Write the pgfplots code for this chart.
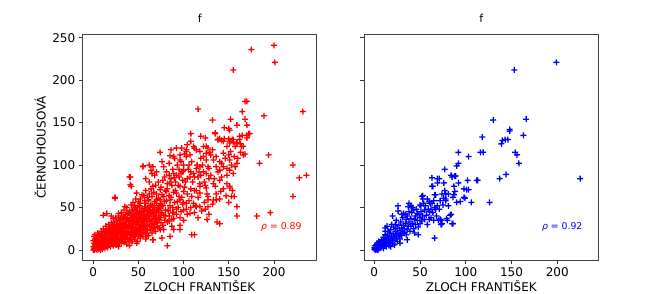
\documentclass[border=0pt]{standalone}
\usepackage{pgfplots}
\pgfplotsset{compat=1.18}
\usepackage{fontspec}
\setmainfont{DejaVu Sans}
\pgfdeclareplotmark{rplus}{%
  \pgfsetlinewidth{1.3pt}\pgfsetstrokecolor{red}%
  \pgfpathmoveto{\pgfqpoint{-\pgfplotmarksize}{-0.06pt}}\pgfpathlineto{\pgfqpoint{\pgfplotmarksize}{0.06pt}}%
  \pgfpathmoveto{\pgfqpoint{0.06pt}{-\pgfplotmarksize}}\pgfpathlineto{\pgfqpoint{-0.06pt}{\pgfplotmarksize}}%
  \pgfusepathqstroke}
\pgfdeclareplotmark{bplus}{%
  \pgfsetlinewidth{1.3pt}\pgfsetstrokecolor{blue}%
  \pgfpathmoveto{\pgfqpoint{-\pgfplotmarksize}{-0.06pt}}\pgfpathlineto{\pgfqpoint{\pgfplotmarksize}{0.06pt}}%
  \pgfpathmoveto{\pgfqpoint{0.06pt}{-\pgfplotmarksize}}\pgfpathlineto{\pgfqpoint{-0.06pt}{\pgfplotmarksize}}%
  \pgfusepathqstroke}
\pgfplotsset{
 myax/.style={
  scale only axis, width=234pt, height=225.7pt,
  xmin=-11.7, xmax=247.3, ymin=-11.8, ymax=254,
  xtick={0,50,100,150,200}, ytick={0,50,100,150,200,250},
  xtick pos=lower, ytick pos=left,
  tick align=outside, major tick length=4pt,
  tick style={black!80, line width=0.8pt},
  axis line style={black!75, line width=0.9pt},
  ticklabel style={font=\fontsize{12}{14}\selectfont},
  /pgf/number format/assume math mode=true,
  title style={font=\fontsize{11}{12}\selectfont, at={(axis description cs:0.5,1)}, anchor=base, yshift=5.6pt},
  title={f},
  xlabel={ZLOCH FRANTIŠEK},
  xlabel style={font=\fontsize{12}{14}\selectfont, at={(axis description cs:0.5,0)}, anchor=base, yshift=-31.4pt},
 },
 mk/.style={only marks, mark=#1, mark size=3pt, line width=1.3pt},
}
\begin{document}
\begin{tikzpicture}[x=1pt,y=1pt]
\useasboundingbox (0,0) rectangle (665,293);
\begin{axis}[myax, at={(82.7pt,33pt)}, anchor=south west,
  ylabel={ČERNOHOUSOVÁ},
  ylabel style={font=\fontsize{12}{14}\selectfont, at={(axis description cs:-0.158,0.5)}, anchor=base, rotate=0}]
\addplot[mk=rplus, red] coordinates {
(200,241) (175,236) (201,221) (155,212) (116,166) (232,163) (168,175) (170,175) (165,163) (189,158) (132,153) (152,154) (168,154) (159,147) (170,147) (145,144) (150,143) (151,141) (135,138) (172,137) (108,137) (119,134) (124,132) (165,135) (140,131) (145,131) (150,131) (154,130) (162,130) (170,132) (135,137) (194,112) (184,102) (221,100) (228,85) (236,88) (221,63) (196,44) (181,40) (159,51) (159,40) (156,63) (126,36) (137,33) (140,31) (109,18) (112,18) (82,5) (74,115)
(138,130) (142,129) (151,128) (155,127) (159,126) (163,125) (148,122) (157,122) (166,122) (152,116) (166,112) (168,113) (159,102) (151,94) (155,90) (140,94) (133,106) (122,110) (127,120) (125,122) (118,116) (111,122) (103,118) (107,112) (92,120) (101,113) (96,106) (85,111) (76,104) (66,98) (55,98) (65,90) (81,92) (89,90) (100,94) (111,90) (118,98) (125,90) (135,75) (141,69) (136,59) (148,78) (153,63) (151,73) (133,59) (127,63) (118,75) (109,63) (103,55) (100,47) (89,37) (87,28) (96,24) (78,24) (76,14) (66,12) (48,8) (41,77) (41,86) (24,61) (11,41) (15,43) (28,43) (35,51) (42,53) (48,67) (52,55) (61,59) (66,75) (65,63) (74,71) (70,59) (81,69) (85,59) (83,47) (92,67) (96,59) (111,55) (118,51) (127,51) (144,114) (151,106) (157,98) (55,99) (62,100) (40,86) (42,75) (24,62)
(138,130) (144,128) (151,126) (155,130) (159,126) (162,134) (164,122) (170,135) (173,137)
(89,110) (103,116) (112,120) (122,122) (130,112) (136,98) (142,102) (148,96) (151,75) (154,70) (140,82) (133,78) (125,73) (118,67) (127,59) (114,51) (107,43) (100,35) (96,29) (89,24) (85,16) (66,12) (74,24) (59,16)
(52,60) (56,64) (58,70) (62,66) (64,72) (67,68) (69,76) (72,80) (75,74) (77,82) (79,86) (82,78) (84,88) (86,84) (88,95) (91,80) (93,100) (95,86) (97,104) (99,92) (101,74) (104,84) (106,100) (108,92) (110,80) (112,70) (114,96) (116,86) (119,88) (121,100) (123,80) (125,114) (128,96) (130,88) (132,118) (134,84) (136,110) (138,92) (140,104) (142,86) (144,98) (146,108) (148,88) (150,112) (153,100) (156,110) (160,108) (163,115) (72,46) (76,52) (80,40) (84,34) (88,44) (92,48) (96,38) (100,56) (104,42) (108,50) (112,44) (116,38) (120,46) (124,48) (128,42) (132,54) (136,66) (140,60) (144,72) (147,64) (150,56) (60,62) (57,58) (54,65) (50,57) (47,60) (44,56) (62,80) (58,84) (68,88) (64,94) (78,98) (84,102) (90,108) (96,112) (104,124) (108,128) (98,120) (86,118) (70,92)
(0,0) (1,2) (0,4) (2,6) (1,8) (0,11) (2,13) (1,16) (3,1) (3,9) (2,18)
(4,0) (5,3) (4,6) (6,8) (5,11) (4,14) (6,17) (5,20) (6,1)
(7,2) (8,5) (7,9) (9,12) (8,15) (7,19) (9,22) (8,0) (9,7)
(10,1) (11,4) (10,8) (12,11) (11,14) (10,18) (12,21) (11,25) (12,6)
(13,2) (14,6) (13,10) (15,13) (14,17) (13,21) (15,24) (14,28) (15,4)
(16,3) (17,7) (16,11) (18,14) (17,18) (16,22) (18,26) (17,30) (18,9)
(19,4) (20,8) (19,12) (21,16) (20,20) (19,24) (21,28) (20,32) (21,11) (20,40)
(22,5) (23,9) (22,13) (24,17) (23,21) (22,25) (24,29) (23,33) (24,12) (22,37)
(25,6) (26,10) (25,14) (27,18) (26,22) (25,26) (27,30) (26,34) (27,15) (25,38)
(28,4) (29,11) (28,15) (30,19) (29,23) (28,27) (30,31) (29,35) (30,13) (28,40)
(31,8) (32,12) (31,16) (33,20) (32,24) (31,28) (33,32) (32,36) (33,40) (31,44)
(34,9) (35,13) (34,17) (36,21) (35,25) (34,29) (36,33) (35,37) (36,42) (34,47)
(37,7) (38,14) (37,18) (39,22) (38,26) (37,30) (39,34) (38,38) (39,43) (37,50)
(40,5) (41,12) (40,17) (42,21) (41,25) (40,29) (42,33) (41,37) (42,41) (40,45)
(43,10) (44,15) (43,19) (45,23) (44,27) (43,31) (45,35) (44,39) (45,43) (43,48)
(46,13) (47,18) (46,22) (48,26) (47,30) (46,34) (48,38) (47,42) (48,47) (46,52)
(49,10) (50,16) (49,21) (51,25) (50,29) (49,33) (51,37) (50,41) (51,45) (49,50)
(52,14) (53,19) (52,24) (54,28) (53,32) (52,36) (54,40) (53,44) (54,49) (52,55)
(55,16) (56,21) (55,26) (57,30) (56,34) (55,38) (57,42) (56,46) (57,51)
(58,13) (59,19) (58,24) (60,28) (59,33) (58,37) (60,41) (59,45) (60,50) (58,55)
(61,17) (63,23) (62,29) (64,34) (61,39) (63,44) (62,48) (64,53) (61,58)
(65,20) (67,26) (66,31) (68,37) (65,42) (67,47) (66,52) (68,57)
(69,22) (71,28) (70,34) (72,40) (69,45) (71,50) (70,55) (72,61) (70,66)
(73,26) (75,32) (74,38) (76,44) (73,49) (75,54) (74,59) (76,65)
(77,29) (79,35) (78,41) (80,47) (77,52) (79,57) (78,63) (80,70)
(82,33) (84,40) (83,46) (85,52) (81,58) (84,64) (82,72) (85,80)
(87,36) (89,44) (88,50) (90,56) (86,62) (89,68) (87,76) (90,85)
(92,42) (94,50) (93,57) (95,63) (91,70) (94,76) (92,88) (95,95)
(97,45) (99,54) (98,62) (100,69) (96,75) (99,82) (97,90) (100,100)
(103,48) (106,58) (104,66) (108,72) (102,80) (107,86) (105,95) (109,104) (103,110)
(113,52) (116,62) (114,70) (118,78) (112,86) (117,92) (115,100) (119,108) (114,118)
(123,56) (126,66) (124,76) (128,84) (122,92) (127,98) (125,106) (129,115)
(1,0) (2,3) (3,5) (4,10) (3,12) (5,15) (6,4) (7,6) (8,10) (9,17) (10,4) (11,9) (12,16) (13,7) (14,12) (14,22) (15,18) (16,7) (17,12) (17,24) (18,20) (19,9) (20,15) (20,26) (21,22) (22,9) (22,18) (23,28) (24,7) (24,22) (25,17) (26,28) (26,12) (27,24) (27,8) (28,20) (29,30) (29,8) (30,24) (30,36) (31,12) (31,20) (32,32) (33,16) (33,28) (34,22) (34,38) (35,10) (35,30) (36,18) (36,26) (37,36) (38,22) (38,44) (39,12) (39,28) (40,35) (41,18) (41,42) (42,27) (42,10) (43,37) (44,22) (44,46) (45,30) (45,16) (46,40) (47,26) (47,50) (48,20) (48,34) (49,44) (50,24) (50,36) (51,19) (51,52) (52,30) (52,44) (53,26) (53,38) (54,20) (54,34) (55,46) (55,30) (56,40) (56,25) (57,36) (58,48) (58,20) (59,30) (60,38) (60,24) (61,46) (62,34) (63,52) (64,28) (64,42) (65,36) (66,46) (66,24) (67,40) (68,30) (68,50) (69,38) (70,44) (71,32) (72,48) (73,36) (74,52) (75,42)
};
\node[font=\fontsize{9.3}{11}\selectfont, text=red, anchor=base] at (rel axis cs:0.849,0.136) {\itshape ρ\upshape{} = 0.89};
\end{axis}
\begin{axis}[myax, at={(364.3pt,33pt)}, anchor=south west, xmin=-10.9, xmax=244.8, yticklabels={}]
\addplot[mk=bplus, blue] coordinates {
(199,221) (153,212) (166,154) (130,153) (148,142) (148,140) (163,135) (118,133) (140,129) (143,130) (146,130) (139,125) (116,115) (119,115) (154,115) (156,112) (158,102) (144,89) (137,84) (225,84)
(92,115) (103,110) (92,102) (90,99) (77,95) (69,84) (71,84) (76,79) (84,88) (85,86) (88,87) (89,87) (92,79) (64,75) (87,75) (101,71) (103,71) (112,82) (77,70) (88,69) (66,65) (53,64) (53,60) (78,60) (87,65) (90,56) (99,61) (106,56) (126,56) (61,55) (69,52) (71,48) (59,48) (26,52) (26,46) (37,51) (41,50) (43,47) (47,43) (81,52) (83,41) (70,35) (74,31) (80,35) (86,31) (66,14) (36,12) (33,20) (63,85) (69,79) (102,82) (113,82) (98,72) (76,61) (86,62) (72,58) (78,58) (75,53) (94,57) (98,62) (52,63) (51,52) (54,55) (60,57) (62,48) (66,50) (73,35) (79,37) (84,42) (73,30) (85,31) (38,55) (40,52) (32,43) (34,42) (12,26) (12,22) (63,75) (67,65) (74,66) (78,66) (81,66) (50,53) (65,35) (72,36)
(0,1) (1,0) (1,2) (2,1) (2,3) (3,0) (3,2) (4,4) (4,1) (5,3) (5,6) (6,2) (6,5) (7,4) (7,8) (8,3) (8,6) (9,9) (9,5) (10,2) (10,7) (11,11) (11,5) (12,8) (12,14) (13,4) (13,10) (14,7) (14,17) (15,12) (15,9) (16,5) (2,6) (3,8) (5,10) (0,3) (1,5) (4,0) (6,9) (8,12) (10,15) (12,18)
(16,14) (17,20) (17,9) (18,11) (18,24) (19,16) (20,8) (20,13) (21,19) (21,27) (22,11) (22,16) (23,22) (23,30) (24,14) (24,18) (25,25) (25,10) (26,20) (27,16) (27,29) (28,23) (28,13) (29,19) (29,33) (30,26) (30,17) (31,22) (31,38) (32,29) (33,20) (33,25) (34,31) (35,18) (35,36) (19,30) (15,22) (24,35) (30,42) (28,8) (18,4) (22,6)
(36,24) (36,40) (37,28) (38,33) (39,22) (40,37) (40,28) (41,44) (42,31) (43,25) (44,36) (45,40) (45,30) (46,48) (47,35) (48,27) (49,42) (50,38) (50,31) (51,45) (52,34) (53,40) (55,47) (55,36) (44,20) (48,18) (38,45) (42,50) (20,40) (14,28)
(56,52) (57,41) (58,60) (60,45) (62,38) (63,55) (64,44) (65,58) (67,48) (68,40) (58,30) (60,36)
};
\node[font=\fontsize{9.3}{11}\selectfont, text=blue, anchor=base] at (rel axis cs:0.846,0.136) {\itshape ρ\upshape{} = 0.92};
\end{axis}
\end{tikzpicture}
\end{document}
